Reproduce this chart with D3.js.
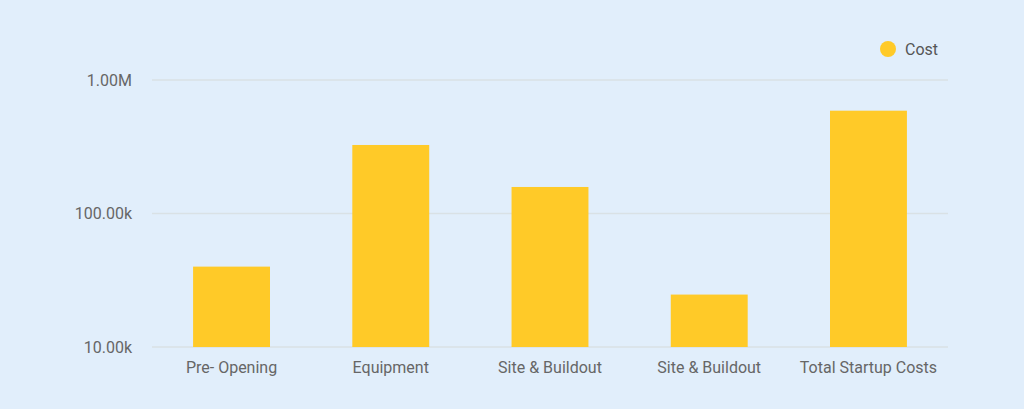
<!DOCTYPE html>
<html><head><meta charset="utf-8">
<script src="https://cdn.jsdelivr.net/npm/d3@7"></script>
<style>
html,body{margin:0;padding:0;background:#e1eefb;}
svg{display:block;font-family:Roboto,"Noto Sans",sans-serif;}
</style></head>
<body>
<svg id="c" width="1024" height="409"></svg>
<script>
const categories = ["Pre- Opening","Equipment","Site & Buildout","Site & Buildout","Total Startup Costs"];
const costValues = [40000, 326000, 158000, 24700, 589000];
const yTicks = [10000, 100000, 1000000];
const yTickLabels = ["10.00k","100.00k","1.00M"];
const seriesName = "Cost";

(function(){
const svg = d3.select("#c");
const W = 1024, H = 409;
svg.append("rect").attr("width",W).attr("height",H).attr("fill","#e1eefb");

const mLeft = 152, mRight = 948, mTop = 80, mBottom = 347;
const x = d3.scaleBand().domain(d3.range(categories.length)).range([mLeft, mRight]).paddingInner(0.517).paddingOuter(0.258);
const y = d3.scaleLog().domain([10000, 1000000]).range([mBottom, mTop]);

svg.append("g").selectAll("line").data(yTicks).join("line")
  .attr("x1", mLeft).attr("x2", mRight)
  .attr("y1", d => y(d)).attr("y2", d => y(d))
  .attr("stroke", "#d9e1e5").attr("stroke-width", 1.6);

svg.append("g").selectAll("text").data(yTicks).join("text")
  .attr("x", 132).attr("y", d => y(d)).attr("dy","0.35em")
  .attr("text-anchor","end").attr("font-size",16).attr("fill","#666")
  .text((d,i) => yTickLabels[i]);

svg.append("g").selectAll("rect").data(costValues).join("rect")
  .attr("x", (d,i) => x(i)).attr("width", x.bandwidth())
  .attr("y", d => y(d)).attr("height", d => mBottom - y(d))
  .attr("fill", "#ffca28");

svg.append("g").selectAll("text").data(categories).join("text")
  .attr("x", (d,i) => x(i) + x.bandwidth()/2).attr("y", 373)
  .attr("text-anchor","middle").attr("font-size",16).attr("fill","#666")
  .text(d => d);

const lg = svg.append("g");
lg.append("circle").attr("cx", 888).attr("cy", 49).attr("r", 8).attr("fill", "#ffca28");
lg.append("text").attr("x", 905).attr("y", 49).attr("dy","0.35em")
  .attr("font-size",16).attr("fill","#555").text(seriesName);
})();
</script>
</body></html>
